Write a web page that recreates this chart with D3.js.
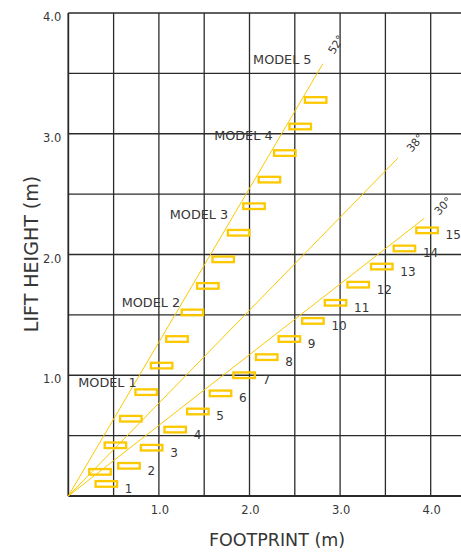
<!DOCTYPE html>
<html>
<head>
<meta charset="utf-8">
<script src="https://cdn.jsdelivr.net/npm/d3@7"></script>
<style>
  body { margin: 0; background: #fff; }
  svg { display: block; }
  text { font-family: "DejaVu Sans", sans-serif; fill: #363636; }
</style>
</head>
<body>
<div id="chart"></div>
<script>
// lift height vs footprint, model lines

// grid and ticks
var gridX = [0, 0.5, 1.0, 1.5, 2.0, 2.5, 3.0, 3.5, 4.0];
var gridY = [0, 0.5, 1.0, 1.5, 2.0, 2.5, 3.0, 3.5, 4.0];
var xTicks = [1.0, 2.0, 3.0, 4.0];
var yTicks = [1.0, 2.0, 3.0, 4.0];

// angle lines from the origin (end point)
var angleLabels = ["52°", "38°", "30°"];
var angleDeg = [52, 38, 30];
var lineEndX = [2.81, 3.64, 3.93];
var lineEndY = [3.58, 2.80, 2.30];

// model labels
var modelNames = ["MODEL 1", "MODEL 2", "MODEL 3", "MODEL 4", "MODEL 5"];
var modelX = [0.11, 0.59, 1.12, 1.61, 2.04];
var modelY = [0.90, 1.565, 2.29, 2.95, 3.58];

// boxes along the steep line
var steepFootprint = [0.35, 0.52, 0.69, 0.86, 1.03, 1.20, 1.37, 1.54, 1.71, 1.88, 2.05, 2.22, 2.39, 2.56, 2.73];
var steepLift = [0.20, 0.42, 0.64, 0.86, 1.08, 1.30, 1.52, 1.74, 1.96, 2.18, 2.40, 2.62, 2.84, 3.06, 3.28];

// numbered boxes along the shallow line
var shallowLabels = ["1", "2", "3", "4", "5", "6", "7", "8", "9", "10", "11", "12", "13", "14", "15"];
var shallowFootprint = [0.42, 0.67, 0.92, 1.18, 1.43, 1.68, 1.94, 2.19, 2.44, 2.70, 2.95, 3.20, 3.46, 3.71, 3.96];
var shallowLift = [0.10, 0.25, 0.40, 0.55, 0.70, 0.85, 1.00, 1.15, 1.30, 1.45, 1.60, 1.75, 1.90, 2.05, 2.20];

var width = 461;
var height = 553;
var gold = "#fcc800";

var svg = d3.select("#chart")
    .append("svg")
    .attr("width", width)
    .attr("height", height);

// plot runs off the right edge of the page
var x = d3.scaleLinear().domain([0, 4.5]).range([68.3, 476]);
var y = d3.scaleLinear().domain([0, 4]).range([496, 13]);

// grid
svg.append("g").selectAll("line")
    .data(gridX)
    .enter()
    .append("line")
    .attr("x1", function (d) { return x(d); })
    .attr("x2", function (d) { return x(d); })
    .attr("y1", y(0))
    .attr("y2", y(4))
    .attr("stroke", "#2b2b2b")
    .attr("stroke-width", function (d) { return d == 0 ? 1.8 : 1.3; });

svg.append("g").selectAll("line")
    .data(gridY)
    .enter()
    .append("line")
    .attr("x1", x(0))
    .attr("x2", x(4.5))
    .attr("y1", function (d) { return y(d); })
    .attr("y2", function (d) { return y(d); })
    .attr("stroke", "#2b2b2b")
    .attr("stroke-width", function (d) { return d == 0 ? 1.8 : 1.3; });

// tick labels
svg.append("g").selectAll("text")
    .data(yTicks)
    .enter()
    .append("text")
    .attr("x", x(0) - 7)
    .attr("y", function (d) { return y(d) + 4; })
    .attr("text-anchor", "end")
    .attr("dominant-baseline", "central")
    .style("font-size", "11.5px")
    .text(function (d) { return d.toFixed(1); });

svg.append("g").selectAll("text")
    .data(xTicks)
    .enter()
    .append("text")
    .attr("x", function (d) { return x(d) + 1; })
    .attr("y", y(0) + 13.5)
    .attr("text-anchor", "middle")
    .attr("dominant-baseline", "central")
    .style("font-size", "11.5px")
    .text(function (d) { return d.toFixed(1); });

// axis titles
svg.append("text")
    .attr("x", 277)
    .attr("y", 546)
    .attr("text-anchor", "middle")
    .style("font-size", "17.5px")
    .text("FOOTPRINT (m)");

svg.append("text")
    .attr("transform", "translate(37.5,254) rotate(-90)")
    .attr("text-anchor", "middle")
    .style("font-size", "19px")
    .text("LIFT HEIGHT (m)");

// angle lines
var lineIdx = d3.range(angleLabels.length);

svg.append("g").selectAll("line")
    .data(lineIdx)
    .enter()
    .append("line")
    .attr("x1", x(0))
    .attr("y1", y(0))
    .attr("x2", function (i) { return x(lineEndX[i]); })
    .attr("y2", function (i) { return y(lineEndY[i]); })
    .attr("stroke", gold)
    .attr("stroke-width", 1);

// angle labels, a little past the line end
var labelRotate = [-57, -50, -46];
svg.append("g").selectAll("text")
    .data(lineIdx)
    .enter()
    .append("text")
    .attr("transform", function (i) {
        var a = angleDeg[i] * Math.PI / 180;
        var lx = x(lineEndX[i] + 0.24 * Math.cos(a));
        var ly = y(lineEndY[i] + 0.2 * Math.sin(a));
        return "translate(" + lx + "," + ly + ") rotate(" + labelRotate[i] + ")";
    })
    .attr("text-anchor", "middle")
    .attr("dominant-baseline", "central")
    .style("font-size", "11px")
    .text(function (i) { return angleLabels[i]; });

// model labels
svg.append("g").selectAll("text")
    .data(modelNames)
    .enter()
    .append("text")
    .attr("x", function (d, i) { return x(modelX[i]); })
    .attr("y", function (d, i) { return y(modelY[i]); })
    .style("font-size", "12.8px")
    .text(function (d) { return d; });

// boxes
var boxW = 21.5;
var boxH = 5.6;

function drawBoxes(fx, ly) {
    svg.append("g").selectAll("rect")
        .data(fx)
        .enter()
        .append("rect")
        .attr("x", function (d) { return x(d) - boxW / 2; })
        .attr("y", function (d, i) { return y(ly[i]) - boxH / 2; })
        .attr("width", boxW)
        .attr("height", boxH)
        .attr("fill", "none")
        .attr("stroke", gold)
        .attr("stroke-width", 2.3);
}

drawBoxes(steepFootprint, steepLift);
drawBoxes(shallowFootprint, shallowLift);

// numbers next to the shallow boxes
svg.append("g").selectAll("text")
    .data(shallowLabels)
    .enter()
    .append("text")
    .attr("x", function (d, i) { return x(shallowFootprint[i]) + 18.5; })
    .attr("y", function (d, i) { return y(shallowLift[i]) + 9; })
    .style("font-size", "12px")
    .text(function (d) { return d; });
</script>
</body>
</html>
